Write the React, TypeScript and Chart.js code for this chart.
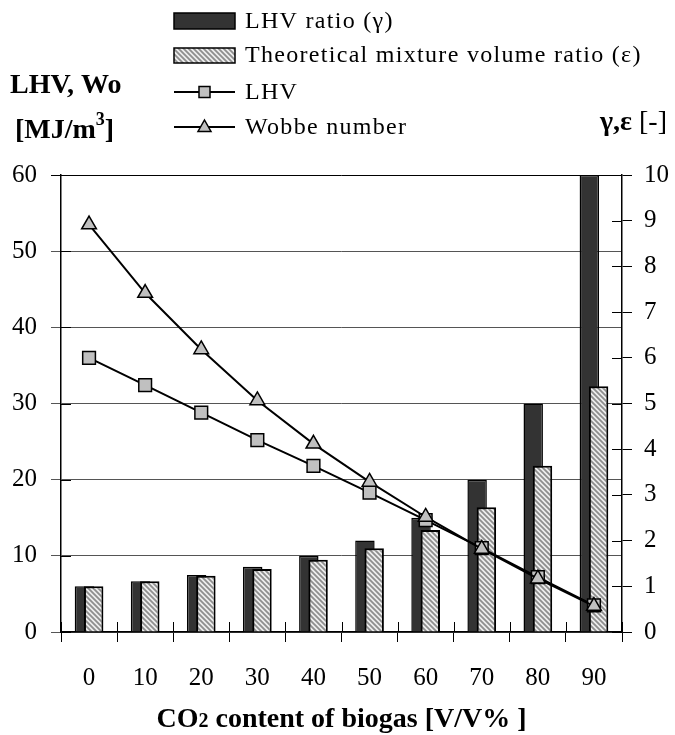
import React, { useEffect, useRef } from 'react';
import { Chart, registerables } from 'chart.js';

Chart.register(...registerables);

// ---- data ----
const categories = ['0', '10', '20', '30', '40', '50', '60', '70', '80', '90'];
const lhvRatio = [1.0, 1.11, 1.25, 1.43, 1.67, 2.0, 2.5, 3.33, 5.0, 10.0];
const mixRatio = [1.0, 1.11, 1.23, 1.38, 1.58, 1.83, 2.23, 2.73, 3.64, 5.38];
const lhv = [36.0, 32.4, 28.8, 25.2, 21.8, 18.3, 14.7, 11.0, 7.2, 3.5];
const wobbe = [53.5, 44.5, 37.1, 30.4, 24.7, 19.7, 15.1, 10.9, 7.0, 3.4];

const leftMax = 60;
const leftStep = 10;
const rightMax = 10;
const rightStep = 1;

const legendLabels = [
  'LHV ratio (\u03b3)',
  'Theoretical mixture volume ratio (\u03b5)',
  'LHV',
  'Wobbe number',
];

const FONT = '"Liberation Serif", "Times New Roman", serif';

function makeHatch(): CanvasPattern | string {
  const p = document.createElement('canvas');
  p.width = 5;
  p.height = 5;
  const c = p.getContext('2d');
  if (!c) return '#c8c8c8';
  c.fillStyle = '#eeeeee';
  c.fillRect(0, 0, 5, 5);
  c.strokeStyle = '#8e8e8e';
  c.lineWidth = 1.8;
  c.beginPath();
  c.moveTo(-1, -1);
  c.lineTo(6, 6);
  c.moveTo(-6, -1);
  c.lineTo(1, 6);
  c.moveTo(4, -1);
  c.lineTo(11, 6);
  c.stroke();
  const pat = c.createPattern(p, 'repeat');
  return pat || '#c8c8c8';
}

// dataset indices
const IDX_DARK = 2;
const IDX_HATCH = 3;

export default function App() {
  const ref = useRef<HTMLCanvasElement | null>(null);

  useEffect(() => {
    const canvas = ref.current;
    if (!canvas) return;
    const hatch = makeHatch();

    // dark bars sit in the left slot but must be painted beneath the hatched bars
    const barOrder = {
      id: 'barOrder',
      beforeDatasetDraw(chart: any, args: any) {
        if (args.index === IDX_DARK) return false;
        if (args.index === IDX_HATCH) {
          const meta = chart.getDatasetMeta(IDX_DARK);
          if (meta && meta.controller) meta.controller.draw();
        }
        return true;
      },
    };

    const decor = {
      id: 'decor',
      afterDraw(chart: any) {
        const ctx: CanvasRenderingContext2D = chart.ctx;
        const area = chart.chartArea;
        const sy = chart.scales.y;
        const sy1 = chart.scales.y1;
        ctx.save();
        ctx.strokeStyle = '#000';
        ctx.lineWidth = 1;
        const line = (x1: number, y1: number, x2: number, y2: number) => {
          ctx.beginPath();
          ctx.moveTo(x1, y1);
          ctx.lineTo(x2, y2);
          ctx.stroke();
        };
        // inner tick marks
        sy.ticks.forEach((_t: any, i: number) => {
          const py = Math.round(sy.getPixelForTick(i)) + 0.5;
          line(area.left, py, area.left + 10, py);
        });
        sy1.ticks.forEach((_t: any, i: number) => {
          const py = Math.round(sy1.getPixelForTick(i)) + 0.5;
          line(area.right - 10, py, area.right, py);
        });
        const n = categories.length;
        const w = (area.right - area.left) / n;
        for (let i = 0; i <= n; i++) {
          const px = Math.round(area.left + i * w) + 0.5;
          line(px, area.bottom - 10, px, area.bottom);
        }

        // legend
        const lx1 = 174;
        const lx2 = 235;
        const tx = 245;
        ctx.lineWidth = 1.5;
        ctx.fillStyle = '#333333';
        ctx.fillRect(lx1, 13, lx2 - lx1, 16);
        ctx.strokeRect(lx1, 13, lx2 - lx1, 16);
        ctx.fillStyle = hatch as any;
        ctx.fillRect(lx1, 48, lx2 - lx1, 15);
        ctx.strokeRect(lx1, 48, lx2 - lx1, 15);
        ctx.lineWidth = 2;
        line(lx1, 92, lx2, 92);
        line(lx1, 127, lx2, 127);
        const mx = (lx1 + lx2) / 2;
        ctx.lineWidth = 1.5;
        ctx.fillStyle = '#c0c0c0';
        ctx.fillRect(mx - 5.5, 92 - 5.5, 11, 11);
        ctx.strokeRect(mx - 5.5, 92 - 5.5, 11, 11);
        ctx.beginPath();
        ctx.moveTo(mx, 127 - 7);
        ctx.lineTo(mx + 6.5, 127 + 4.5);
        ctx.lineTo(mx - 6.5, 127 + 4.5);
        ctx.closePath();
        ctx.fill();
        ctx.stroke();

        ctx.fillStyle = '#000';
        ctx.textAlign = 'left';
        ctx.textBaseline = 'alphabetic';
        ctx.font = `24px ${FONT}`;
        (ctx as any).letterSpacing = '1.3px';
        const baselines = [28, 62, 99, 134];
        legendLabels.forEach((t, i) => ctx.fillText(t, tx, baselines[i]));
        (ctx as any).letterSpacing = '0px';

        // left axis title
        ctx.font = `bold 28px ${FONT}`;
        ctx.fillText('LHV, Wo', 10, 93);
        let cx = 15;
        const b2 = 138;
        ctx.fillText('[MJ/m', cx, b2);
        cx += ctx.measureText('[MJ/m').width;
        ctx.font = `bold 18px ${FONT}`;
        ctx.fillText('3', cx, b2 - 13);
        cx += ctx.measureText('3').width;
        ctx.font = `bold 28px ${FONT}`;
        ctx.fillText(']', cx, b2);

        // right axis title
        ctx.font = `28px ${FONT}`;
        const rPart = ' [-]';
        const rw = ctx.measureText(rPart).width;
        ctx.textAlign = 'right';
        ctx.fillText(rPart, 667, 130);
        ctx.font = `bold 28px ${FONT}`;
        ctx.fillText('\u03b3,\u03b5', 667 - rw, 130);

        // x axis title
        ctx.textAlign = 'left';
        const p1 = 'CO';
        const p2 = '2';
        const p3 = ' content of biogas [V/V% ]';
        ctx.font = `bold 28px ${FONT}`;
        const w1 = ctx.measureText(p1).width;
        const w3 = ctx.measureText(p3).width;
        ctx.font = `bold 20px ${FONT}`;
        const w2 = ctx.measureText(p2).width;
        const total = w1 + w2 + w3;
        let xx = (area.left + area.right) / 2 - total / 2;
        const xb = 727;
        ctx.font = `bold 28px ${FONT}`;
        ctx.fillText(p1, xx, xb);
        xx += w1;
        ctx.font = `bold 20px ${FONT}`;
        ctx.fillText(p2, xx, xb);
        xx += w2;
        ctx.font = `bold 28px ${FONT}`;
        ctx.fillText(p3, xx, xb);
        ctx.restore();
      },
    };

    const tickFont = { family: FONT, size: 25 };

    const chart = new Chart(canvas, {
      type: 'bar',
      data: {
        labels: categories,
        datasets: [
          {
            type: 'line',
            label: 'Wobbe number',
            data: wobbe,
            yAxisID: 'y',
            order: 0,
            borderColor: '#000',
            borderWidth: 2,
            pointStyle: 'triangle',
            pointRadius: 8.5,
            pointBackgroundColor: '#c0c0c0',
            pointBorderColor: '#000',
            pointBorderWidth: 1.5,
            tension: 0,
          } as any,
          {
            type: 'line',
            label: 'LHV',
            data: lhv,
            yAxisID: 'y',
            order: 1,
            borderColor: '#000',
            borderWidth: 2,
            pointStyle: 'rect',
            pointRadius: 9,
            pointBackgroundColor: '#c0c0c0',
            pointBorderColor: '#000',
            pointBorderWidth: 1.5,
            tension: 0,
          } as any,
          {
            type: 'bar',
            label: legendLabels[0],
            data: lhvRatio,
            yAxisID: 'y1',
            order: 2,
            backgroundColor: '#333333',
            borderColor: '#000',
            borderWidth: 1.5,
            categoryPercentage: 0.33,
            barPercentage: 2.1,
          } as any,
          {
            type: 'bar',
            label: legendLabels[1],
            data: mixRatio,
            yAxisID: 'y1',
            order: 3,
            backgroundColor: hatch as any,
            borderColor: '#000',
            borderWidth: 2,
            categoryPercentage: 0.33,
            barPercentage: 2.1,
          } as any,
        ],
      },
      options: {
        responsive: false,
        animation: false,
        devicePixelRatio: 1,
        layout: { padding: { top: 175, left: 0, right: 0, bottom: 0 } },
        plugins: {
          legend: { display: false },
          tooltip: { enabled: false },
          title: { display: false },
        },
        scales: {
          x: {
            type: 'category',
            offset: true,
            grid: {
              offset: true,
              drawOnChartArea: false,
              drawTicks: true,
              tickLength: 10,
              color: '#000',
              lineWidth: 1,
            },
            border: { display: true, color: '#000', width: 1.5 },
            ticks: {
              font: tickFont,
              color: '#000',
              padding: 21,
              maxRotation: 0,
              autoSkip: false,
            },
            afterFit: (s: any) => {
              s.height = 103;
            },
          },
          y: {
            position: 'left',
            min: 0,
            max: leftMax,
            ticks: {
              stepSize: leftStep,
              font: tickFont,
              color: '#000',
              padding: 14,
            },
            grid: {
              color: (c: any) => (c.tick && c.tick.value === leftMax ? '#000' : '#555'),
              lineWidth: 1,
              tickLength: 10,
              drawTicks: true,
            },
            border: { display: true, color: '#000', width: 1.5 },
            afterFit: (s: any) => {
              s.width = 61;
            },
          },
          y1: {
            position: 'right',
            min: 0,
            max: rightMax,
            ticks: {
              stepSize: rightStep,
              font: tickFont,
              color: '#000',
              padding: 12,
            },
            grid: {
              drawOnChartArea: false,
              tickLength: 10,
              color: '#000',
              lineWidth: 1,
            },
            border: { display: true, color: '#000', width: 1.5 },
            afterFit: (s: any) => {
              s.width = 53;
            },
          },
        } as any,
      },
      plugins: [barOrder, decor],
    } as any);

    return () => chart.destroy();
  }, []);

  return (
    <div style={{ position: 'fixed', left: 0, top: 0, width: 675, height: 735, background: '#fff' }}>
      <canvas ref={ref} width={675} height={735} style={{ display: 'block' }} />
    </div>
  );
}
